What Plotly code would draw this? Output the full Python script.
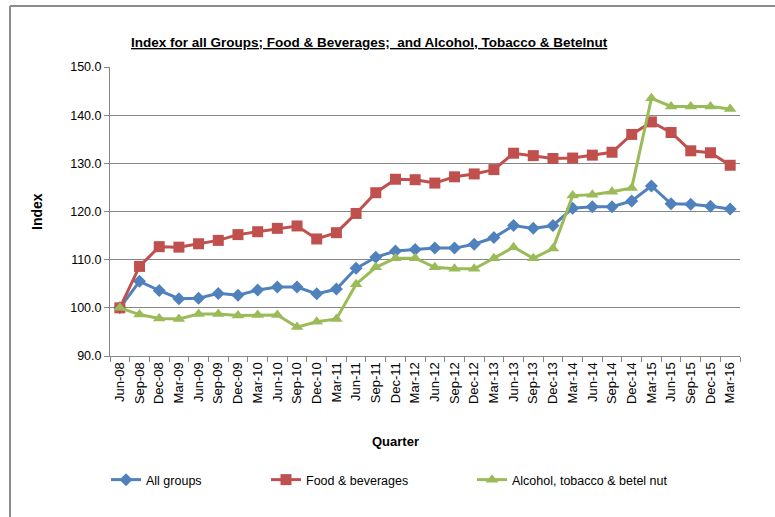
import plotly.graph_objects as go

quarters = ["Jun-08", "Sep-08", "Dec-08", "Mar-09", "Jun-09", "Sep-09", "Dec-09", "Mar-10",
            "Jun-10", "Sep-10", "Dec-10", "Mar-11", "Jun-11", "Sep-11", "Dec-11", "Mar-12",
            "Jun-12", "Sep-12", "Dec-12", "Mar-13", "Jun-13", "Sep-13", "Dec-13", "Mar-14",
            "Jun-14", "Sep-14", "Dec-14", "Mar-15", "Jun-15", "Sep-15", "Dec-15", "Mar-16"]

all_groups = [100.0, 105.5, 103.6, 101.9, 102.0, 103.0, 102.6, 103.7,
              104.3, 104.3, 102.9, 103.9, 108.2, 110.5, 111.8, 112.1,
              112.4, 112.4, 113.2, 114.6, 117.1, 116.5, 117.1, 120.7,
              121.0, 121.0, 122.2, 125.3, 121.6, 121.5, 121.1, 120.5]

food_bev = [100.0, 108.6, 112.7, 112.6, 113.3, 114.0, 115.2, 115.8,
            116.5, 117.0, 114.3, 115.6, 119.6, 123.9, 126.7, 126.6,
            125.9, 127.2, 127.8, 128.7, 132.1, 131.6, 131.0, 131.1,
            131.7, 132.3, 136.0, 138.6, 136.4, 132.6, 132.2, 129.6]

alcohol = [100.0, 98.6, 97.8, 97.7, 98.7, 98.7, 98.4, 98.5,
           98.5, 96.0, 97.1, 97.7, 104.9, 108.4, 110.3, 110.3,
           108.4, 108.1, 108.1, 110.3, 112.6, 110.3, 112.3, 123.3,
           123.5, 124.1, 124.9, 143.5, 141.8, 141.8, 141.8, 141.3]

series_names = ["All groups", "Food & beverages", "Alcohol, tobacco & betel nut"]

W, H = 775, 517
L, R, T, B = 110, 35, 67, 161
PW, PH = W - L - R, H - T - B


def px(xp):
    return (xp - L) / PW


def py(yp):
    return (H - B - yp) / PH


fig = go.Figure()
styles = [
    dict(color="#4F81BD", symbol="diamond", size=10, legend="legend"),
    dict(color="#C0504D", symbol="square", size=11, legend="legend2"),
    dict(color="#9BBB59", symbol="triangle-up", size=11, legend="legend3"),
]
for name, vals, st in zip(series_names, [all_groups, food_bev, alcohol], styles):
    fig.add_trace(go.Scatter(
        x=quarters, y=vals, name=name, mode="lines+markers",
        line=dict(color=st["color"], width=3),
        marker=dict(color=st["color"], symbol=st["symbol"], size=st["size"]),
        legend=st["legend"], showlegend=True,
    ))

legend_font = dict(family="Liberation Sans Narrow, Liberation Sans, Arial", size=12.5, color="#000000")
leg_common = dict(orientation="h", yanchor="middle", xanchor="left", y=py(480),
                  font=legend_font, bgcolor="rgba(0,0,0,0)", itemwidth=30, visible=True)

fig.update_layout(
    width=W, height=H,
    showlegend=True,
    margin=dict(l=L, r=R, t=T, b=B),
    paper_bgcolor="white", plot_bgcolor="white",
    font=dict(family="Liberation Sans, Arial", color="#000000"),
    legend=dict(x=px(106), **leg_common),
    legend2=dict(x=px(266), **leg_common),
    legend3=dict(x=px(472), **leg_common),
    xaxis=dict(
        type="category", range=[-0.5, len(quarters) - 0.5],
        tickangle=-90, tickfont=dict(size=13, family="Liberation Sans, Arial"),
        ticks="outside", ticklen=5, tickcolor="#868686", tickson="boundaries",
        showline=True, linecolor="#868686", linewidth=1,
        showgrid=False, zeroline=False,
    ),
    yaxis=dict(
        range=[90, 150], dtick=10, tick0=90, tickformat=".1f",
        tickfont=dict(size=12.5, family="Liberation Sans, Arial"),
        ticks="outside", ticklen=5, tickcolor="#868686",
        showline=True, linecolor="#868686", linewidth=1,
        showgrid=True, gridcolor="#868686", gridwidth=1, zeroline=False,
    ),
    annotations=[
        dict(text="<u><b>Index for all Groups; Food &amp; Beverages;  and Alcohol, Tobacco &amp; Betelnut</b></u>",
             x=px(369), y=py(42), xref="paper", yref="paper", showarrow=False,
             xanchor="center", yanchor="middle",
             font=dict(family="Liberation Sans Narrow, Liberation Sans, Arial", size=13.5, color="#000000")),
        dict(text="<b>Index</b>", x=px(37), y=py(212), xref="paper", yref="paper",
             showarrow=False, textangle=-90, xanchor="center", yanchor="middle",
             font=dict(size=14, family="Liberation Sans, Arial", color="#000000")),
        dict(text="<b>Quarter</b>", x=px(395), y=py(441), xref="paper", yref="paper",
             showarrow=False, xanchor="center", yanchor="middle",
             font=dict(size=13, family="Liberation Sans, Arial", color="#000000")),
    ],
    shapes=[
        dict(type="line", xref="paper", yref="paper", x0=px(10), x1=px(780), y0=py(6), y1=py(6),
             line=dict(color="#8c8c8c", width=2)),
        dict(type="line", xref="paper", yref="paper", x0=px(10), x1=px(10), y0=py(6), y1=py(520),
             line=dict(color="#8c8c8c", width=2)),
    ],
)

fig.write_html("out.html",
               config={"displayModeBar": False},
               post_script="document.body.style.margin='0';document.body.style.overflow='hidden';")
